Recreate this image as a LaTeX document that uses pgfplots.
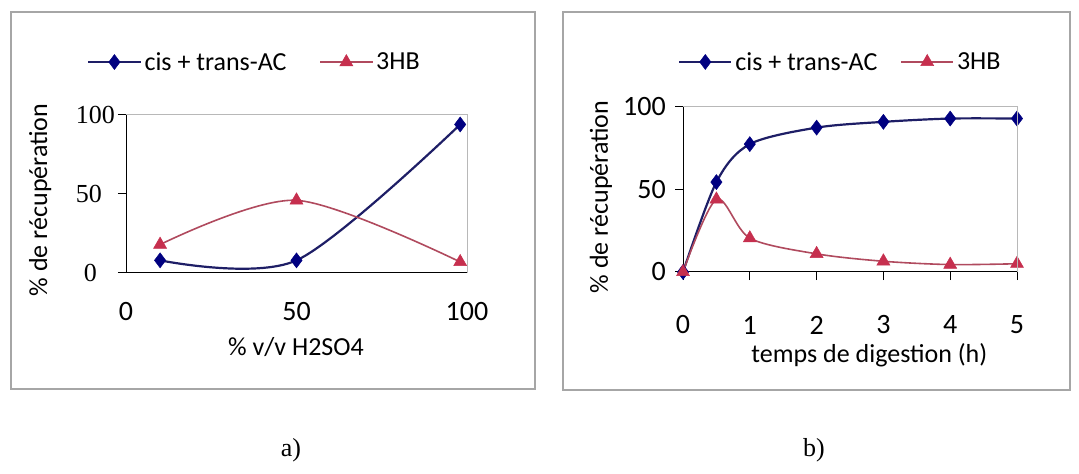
\documentclass[border=0pt]{standalone}
\usepackage{fontspec}
\setmainfont{Carlito}
\newfontfamily\serifnum{Liberation Serif}
\usepackage{pgfplots}
\pgfplotsset{compat=1.18}
\definecolor{navym}{HTML}{000080}
\definecolor{navyl}{HTML}{1E1E66}
\definecolor{redm}{HTML}{C62F4E}
\definecolor{redl}{HTML}{B04A5E}
\definecolor{framegray}{HTML}{A6A6A6}
\definecolor{boxgray}{HTML}{B8B8B8}
\newcommand{\txt}{\fontsize{26bp}{30bp}\selectfont}
\newcommand{\tck}{\fontsize{28bp}{32bp}\selectfont}
\pgfplotsset{
  common/.style={
    scale only axis, anchor=south west, clip=false,
    ymin=0, ymax=100, ytick={0,50,100},
    axis x line*=bottom, axis y line*=left,
    axis line style={-, black, line width=1bp},
    tick align=outside, major tick length=8bp,
    tick style={black, line width=1bp},
    /pgf/number format/assume math mode=true,
    tick label style={font=\tck},
    label style={font=\txt},
    legend columns=2,
    legend cell align=left,
    legend style={draw=none, fill=none, inner sep=0pt, font=\txt, anchor=west,
       nodes={inner xsep=3bp, inner ysep=1bp}},
    legend image code/.code={
      \draw[mark repeat=2,mark phase=2,##1] plot coordinates {(0bp,0bp) (26bp,0bp) (52bp,0bp)};},
    extra description/.code={
      \draw[boxgray, line width=1bp] (rel axis cs:0,1) -- (rel axis cs:1,1) -- (rel axis cs:1,0);},
  },
  ser1/.style={navyl, line width=2.2bp, smooth, mark=diamond*, mark size=7.5bp,
     mark options={solid, draw=navym, fill=navym, line width=0.5bp}},
  ser2/.style={redl, line width=1.6bp, smooth, mark=triangle*, mark size=7.5bp,
     mark options={solid, draw=redm, fill=redm, line width=0.5bp}},
}
\begin{document}
\begin{tikzpicture}
\useasboundingbox (0,0) rectangle (1079bp,474bp);
\draw[framegray, line width=1.5bp] (11bp,85bp) rectangle (535bp,462bp);
\draw[framegray, line width=1.5bp] (563bp,84bp) rectangle (1070bp,462bp);

\begin{axis}[common,
  at={(126bp,201bp)}, width=341bp, height=158bp,
  xmin=0, xmax=100, xtick={0,50,100},
  xtick style={draw=none},
  xticklabel style={anchor=center, yshift=-31bp},
  yticklabels={{0\hspace*{18bp}},{50\hspace*{13bp}},{100}},
  yticklabel style={font=\serifnum\fontsize{26bp}{30bp}\selectfont, anchor=east, inner sep=0pt, xshift=-3bp},
  xlabel={\% v/v H2SO4},
  xlabel style={at={(axis description cs:0.4985,-0.468)}, anchor=center},
  ylabel={\% de récupération},
  ylabel style={at={(axis description cs:-0.252,0.462)}, anchor=center},
  legend style={at={(axis description cs:-0.114,1.335)},
    /tikz/every even column/.append style={column sep=30bp}},
]
\addplot[ser1] coordinates {(10,8) (50,8) (98,94)};
\addlegendentry{cis + trans-AC}
\addplot[ser2] coordinates {(10,18) (50,46) (98,7)};
\addlegendentry{3HB}
\end{axis}

\begin{axis}[common,
  at={(683bp,202bp)}, width=334bp, height=165bp,
  xmin=0, xmax=5, xtick={0,1,2,3,4,5},
  xticklabel style={anchor=center, yshift=-45bp},
  yticklabel style={anchor=east, inner sep=0pt, xshift=-9bp},
  xlabel={temps de digestion (h)},
  xlabel style={at={(axis description cs:0.558,-0.503)}, anchor=center},
  ylabel={\% de récupération},
  ylabel style={at={(axis description cs:-0.246,0.455)}, anchor=center},
  legend style={at={(axis description cs:-0.015,1.273)},
    /tikz/every even column/.append style={column sep=20bp}},
]
\addplot[ser1] coordinates {(0,0) (0.5,54.5) (1,77.5) (2,87.5) (3,91) (4,93) (5,93)};
\addlegendentry{cis + trans-AC}
\addplot[ser2] coordinates {(0,0) (0.5,44) (1,20.5) (2,11) (3,6.5) (4,4.5) (5,5)};
\addlegendentry{3HB}
\end{axis}

\node[font=\serifnum\fontsize{26bp}{30bp}\selectfont] at (291bp,24bp) {a)};
\node[font=\serifnum\fontsize{26bp}{30bp}\selectfont] at (814bp,24bp) {b)};
\end{tikzpicture}
\end{document}
